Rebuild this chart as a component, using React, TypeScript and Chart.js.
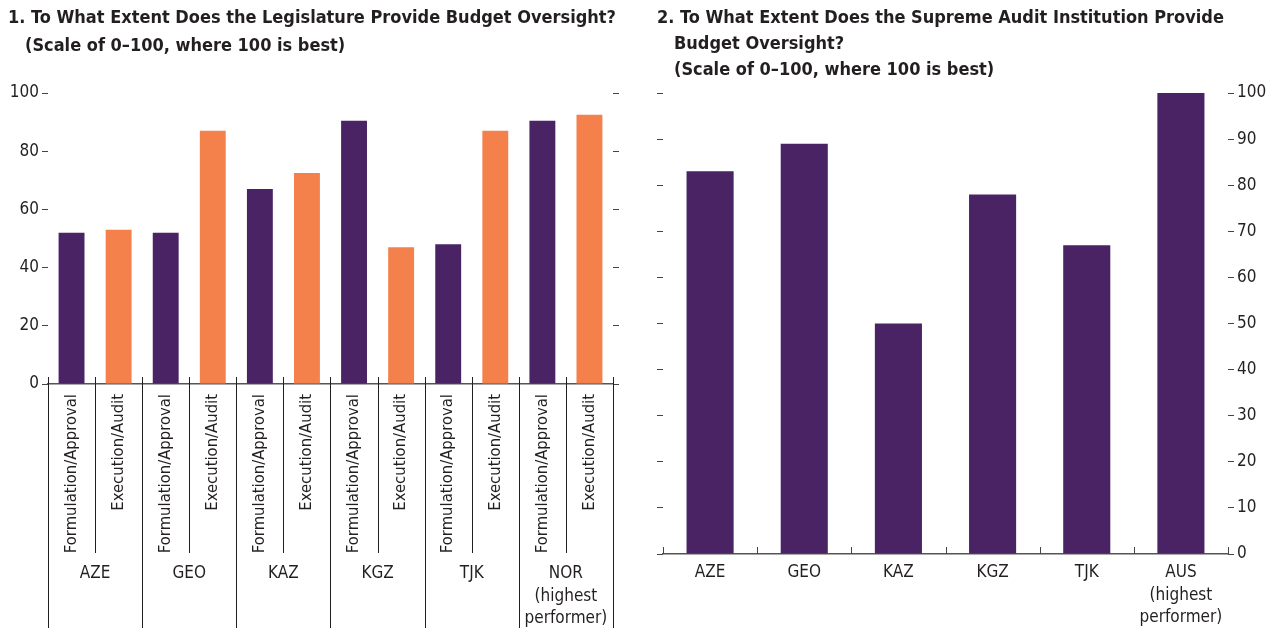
import React, { useEffect, useRef } from 'react';
import { Chart, registerables } from 'chart.js';

Chart.register(...registerables);

// ---------- data ----------
const legisCountries: (string | string[])[] = ['AZE', 'GEO', 'KAZ', 'KGZ', 'TJK', ['NOR', '(highest', 'performer)']];
const legisStages = ['Formulation/Approval', 'Execution/Audit'];
const legisFormulation = [52, 52, 67, 90.5, 48, 90.5];
const legisExecution = [53, 87, 72.5, 47, 87, 92.5];
const legisTicks = [0, 20, 40, 60, 80, 100];

const saiCountries: (string | string[])[] = ['AZE', 'GEO', 'KAZ', 'KGZ', 'TJK', ['AUS', '(highest', 'performer)']];
const saiValues = [83, 89, 50, 78, 67, 100];
const saiTicks = [0, 10, 20, 30, 40, 50, 60, 70, 80, 90, 100];

// ---------- style ----------
const FONT = "'DejaVu Sans Condensed', 'Liberation Sans Narrow', sans-serif";
const TEXT = '#231f20';
const PURPLE = '#4a2364';
const ORANGE = '#f4804b';
const AXIS = '#555555';
const TICK = '#444444';
const FS = 17;

const legisLabels: string[] = [];
const legisData: number[] = [];
const legisColors: string[] = [];
legisFormulation.forEach((v, i) => {
  legisLabels.push(legisStages[0], legisStages[1]);
  legisData.push(v, legisExecution[i]);
  legisColors.push(PURPLE, ORANGE);
});

const legisDividers = {
  id: 'legisDividers',
  afterDraw(chart: any) {
    const { ctx, chartArea, scales } = chart;
    const x = scales.x;
    const n = legisLabels.length;
    const half = (x.getPixelForValue(1) - x.getPixelForValue(0)) / 2;
    ctx.save();
    ctx.strokeStyle = TEXT;
    ctx.lineWidth = 1;
    for (let i = 0; i <= n; i++) {
      const base = i < n ? x.getPixelForValue(i) - half : x.getPixelForValue(n - 1) + half;
      const px = Math.round(base) + 0.5;
      const yEnd = chartArea.bottom + (i % 2 === 0 ? 244 : 169);
      ctx.beginPath();
      ctx.moveTo(px, chartArea.bottom - 7);
      ctx.lineTo(px, yEnd);
      ctx.stroke();
    }
    ctx.fillStyle = TEXT;
    ctx.font = `${FS}px ${FONT}`;
    ctx.textAlign = 'center';
    ctx.textBaseline = 'middle';
    legisCountries.forEach((lab, g) => {
      const cx = (x.getPixelForValue(2 * g) + x.getPixelForValue(2 * g + 1)) / 2;
      const lines = Array.isArray(lab) ? lab : [lab];
      lines.forEach((ln, k) => ctx.fillText(ln, cx, chartArea.bottom + 190 + k * 22.5));
    });
    ctx.restore();
  },
};

const saiDividers = {
  id: 'saiDividers',
  afterDraw(chart: any) {
    const { ctx, chartArea, scales } = chart;
    const x = scales.x;
    const n = saiCountries.length;
    const half = (x.getPixelForValue(1) - x.getPixelForValue(0)) / 2;
    ctx.save();
    ctx.strokeStyle = TICK;
    ctx.lineWidth = 1;
    for (let i = 0; i <= n; i++) {
      const base = i < n ? x.getPixelForValue(i) - half : x.getPixelForValue(n - 1) + half;
      const px = Math.round(base) + 0.5;
      ctx.beginPath();
      ctx.moveTo(px, chartArea.bottom - 7);
      ctx.lineTo(px, chartArea.bottom);
      ctx.stroke();
    }
    ctx.restore();
  },
};

function yAxis(position: 'left' | 'right', step: number, width: number, showLabels: boolean) {
  return {
    type: 'linear',
    position,
    min: 0,
    max: 100,
    afterFit: (s: any) => { s.width = width; },
    border: { display: false },
    grid: { drawOnChartArea: false, drawTicks: true, tickLength: 6, color: TICK, lineWidth: 1 },
    ticks: {
      display: showLabels,
      stepSize: step,
      padding: 3,
      color: TEXT,
      font: { family: FONT, size: FS },
    },
  };
}

function LegisChart() {
  const ref = useRef<HTMLCanvasElement>(null);
  useEffect(() => {
    const chart = new Chart(ref.current as HTMLCanvasElement, {
      type: 'bar',
      data: {
        labels: legisLabels,
        datasets: [{ data: legisData, backgroundColor: legisColors, categoryPercentage: 1, barPercentage: 0.55 }],
      },
      options: {
        animation: false,
        responsive: false,
        devicePixelRatio: 1,
        layout: { padding: { top: 93, left: 0, right: 20, bottom: 0 } },
        plugins: { legend: { display: false }, tooltip: { enabled: false }, title: { display: false } },
        scales: {
          x: {
            type: 'category',
            afterFit: (s: any) => { s.height = 249; },
            border: { display: true, color: AXIS, width: 1.5 },
            grid: { display: true, drawOnChartArea: false, drawTicks: false },
            ticks: {
              autoSkip: false,
              minRotation: 90,
              maxRotation: 90,
              padding: 10,
              color: TEXT,
              font: { family: FONT, size: 16.5 },
            },
          },
          y: { ...yAxis('left', 20, 48, true), afterBuildTicks: (s: any) => { s.ticks = legisTicks.map((v) => ({ value: v })); } },
          y2: { ...yAxis('right', 20, 7, false), afterBuildTicks: (s: any) => { s.ticks = legisTicks.map((v) => ({ value: v })); } },
        },
      } as any,
      plugins: [legisDividers],
    });
    return () => chart.destroy();
  }, []);
  return <canvas ref={ref} width={640} height={633} style={{ position: 'absolute', left: 0, top: 0 }} />;
}

function SaiChart() {
  const ref = useRef<HTMLCanvasElement>(null);
  useEffect(() => {
    const chart = new Chart(ref.current as HTMLCanvasElement, {
      type: 'bar',
      data: {
        labels: saiCountries as any,
        datasets: [{ data: saiValues, backgroundColor: PURPLE, categoryPercentage: 1, barPercentage: 0.5, yAxisID: 'y2' }],
      },
      options: {
        animation: false,
        responsive: false,
        devicePixelRatio: 1,
        layout: { padding: { top: 93, left: 0, right: 0, bottom: 0 } },
        plugins: { legend: { display: false }, tooltip: { enabled: false }, title: { display: false } },
        scales: {
          x: {
            type: 'category',
            afterFit: (s: any) => { s.height = 79; },
            border: { display: true, color: AXIS, width: 1.5 },
            grid: { display: true, drawOnChartArea: false, drawTicks: false },
            ticks: {
              autoSkip: false,
              maxRotation: 0,
              padding: 8,
              color: TEXT,
              font: { family: FONT, size: FS, lineHeight: 1.3 },
            },
          },
          y: { ...yAxis('left', 10, 23, false), afterBuildTicks: (s: any) => { s.ticks = saiTicks.map((v) => ({ value: v })); } },
          y2: { ...yAxis('right', 10, 48, true), afterBuildTicks: (s: any) => { s.ticks = saiTicks.map((v) => ({ value: v })); } },
        },
      } as any,
      plugins: [saiDividers],
    });
    return () => chart.destroy();
  }, []);
  return <canvas ref={ref} width={636} height={633} style={{ position: 'absolute', left: 640, top: 0 }} />;
}

const titleStyle: React.CSSProperties = {
  position: 'absolute',
  top: 4,
  fontFamily: FONT,
  fontWeight: 'bold',
  fontSize: 18,
  lineHeight: '26px',
  color: TEXT,
  whiteSpace: 'nowrap',
};

export default function App() {
  return (
    <div style={{ position: 'fixed', left: 0, top: 0, width: 1276, height: 633, background: '#fff', overflow: 'hidden' }}>
      <LegisChart />
      <SaiChart />
      <div style={{ ...titleStyle, left: 8, lineHeight: '28px', top: 3 }}>
        <div>1. To What Extent Does the Legislature Provide Budget Oversight?</div>
        <div style={{ paddingLeft: 17 }}>(Scale of 0–100, where 100 is best)</div>
      </div>
      <div style={{ ...titleStyle, left: 657 }}>
        <div>2. To What Extent Does the Supreme Audit Institution Provide</div>
        <div style={{ paddingLeft: 17 }}>Budget Oversight?</div>
        <div style={{ paddingLeft: 17 }}>(Scale of 0–100, where 100 is best)</div>
      </div>
    </div>
  );
}
